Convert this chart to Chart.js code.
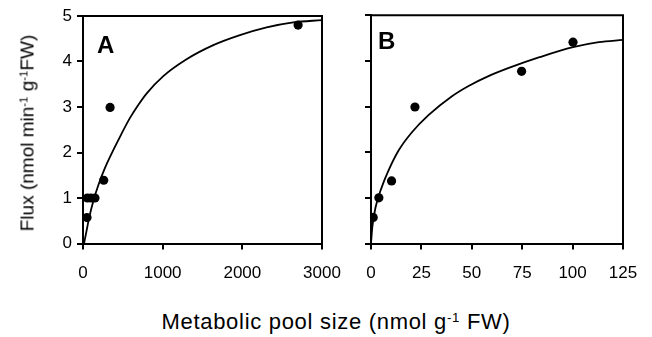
<!DOCTYPE html>
<html>
<head>
<meta charset="utf-8">
<script src="https://cdn.jsdelivr.net/npm/chart.js@4.4.1/dist/chart.umd.min.js"></script>
<style>
    body {
        margin: 0;
        background: #fff;
        width: 652px;
        height: 337px;
        position: relative;
        overflow: hidden;
        font-family: "Liberation Sans", Arial, sans-serif;
        color: #000;
    }
    #chartA { position: absolute; left: 0; top: 0; }
    #chartB { position: absolute; left: 340px; top: 0; }
    sup { font-size: 0.6em; position: relative; top: -0.55em; vertical-align: baseline; line-height: 0; }
    .ytitle {
        position: absolute;
        left: 27px;
        top: 133px;
        font-size: 19px;
        line-height: 19px;
        white-space: nowrap;
        transform: translate(-50%, -50%) rotate(-90deg);
    }
    .xtitle {
        position: absolute;
        left: 336px;
        top: 311px;
        font-size: 22px;
        line-height: 22px;
        letter-spacing: 0.7px;
        white-space: nowrap;
        transform: translateX(-50%);
    }
</style>
</head>
<body>
<canvas id="chartA" width="362" height="290"></canvas>
<canvas id="chartB" width="312" height="290"></canvas>
<div class="ytitle">Flux (nmol min<sup>-1</sup> g<sup>-1</sup>FW)</div>
<div class="xtitle">Metabolic pool size (nmol g<sup>-1</sup> FW)</div>
<script>
// Panel A - measured points
const poolA = [50, 55, 100, 150, 260, 340, 2700];
const fluxA = [0.57, 1.0, 1.0, 1.0, 1.39, 2.99, 4.80];
// Panel A - fitted curve
const curveAx = [13, 38, 79, 129, 192, 276, 380, 480, 590, 700, 800, 1008, 1300, 1636, 1970, 2305, 2640, 3000];
const curveAy = [0, 0.22, 0.58, 0.93, 1.28, 1.66, 2.05, 2.40, 2.76, 3.06, 3.30, 3.68, 4.05, 4.36, 4.58, 4.75, 4.86, 4.91];

// Panel B - measured points
const poolB = [1.1, 3.9, 10.2, 21.8, 74.7, 100.2];
const fluxB = [0.57, 1.0, 1.37, 2.99, 3.77, 4.41];
// Panel B - fitted curve
const curveBx = [0, 0.65, 2.3, 5.3, 8.6, 13.6, 20.2, 28.5, 40, 48.4, 58, 68.7, 83.6, 100.2, 113, 125];
const curveBy = [0, 0.36, 0.80, 1.23, 1.59, 2.03, 2.43, 2.81, 3.22, 3.45, 3.66, 3.85, 4.08, 4.30, 4.41, 4.46];

const fluxTicks = [0, 1, 2, 3, 4, 5];
const ticksA = [0, 1000, 2000, 3000];
const ticksB = [0, 25, 50, 75, 100, 125];

const FONT = '"Liberation Sans", Arial, sans-serif';

// box around the plot + the panel letter
const framePlugin = {
    id: 'frame',
    afterDatasetsDraw(chart, args, opts) {
        const { ctx, chartArea: a } = chart;
        ctx.save();
        ctx.strokeStyle = '#000';
        ctx.lineWidth = 2;
        ctx.beginPath();
        ctx.moveTo(a.left, a.top);
        ctx.lineTo(a.right, a.top);
        ctx.lineTo(a.right, a.bottom);
        ctx.stroke();
        ctx.font = 'bold 24px ' + FONT;
        ctx.fillStyle = '#000';
        ctx.textBaseline = 'alphabetic';
        ctx.fillText(opts.letter, a.left + opts.dx, a.top + opts.dy);
        ctx.restore();
    }
};

function toPoints(xs, ys) {
    return xs.map((x, i) => ({ x: x, y: ys[i] }));
}

function makePanel(id, px, py, cx, cy, xMax, xTicks, showYLabels, pad, yWidth, letter) {
    const ctx = document.getElementById(id).getContext('2d');
    return new Chart(ctx, {
        type: 'scatter',
        data: {
            datasets: [{
                data: toPoints(cx, cy),
                showLine: true,
                pointRadius: 0,
                borderColor: '#000',
                borderWidth: 1.8,
                cubicInterpolationMode: 'monotone',
                fill: false
            }, {
                data: toPoints(px, py),
                showLine: false,
                pointRadius: 4.6,
                pointHoverRadius: 4.6,
                backgroundColor: '#000',
                borderWidth: 0
            }]
        },
        options: {
            responsive: false,
            animation: false,
            events: [],
            layout: { padding: pad },
            plugins: {
                legend: { display: false },
                tooltip: { enabled: false },
                frame: letter
            },
            scales: {
                x: {
                    type: 'linear',
                    min: 0,
                    max: xMax,
                    afterBuildTicks: (scale) => { scale.ticks = xTicks.map(v => ({ value: v })); },
                    ticks: {
                        color: '#000',
                        font: { family: FONT, size: 17 },
                        padding: 14,
                        maxRotation: 0,
                        callback: (v) => String(v)
                    },
                    grid: { drawOnChartArea: false, drawTicks: true, tickLength: 6, color: '#000', lineWidth: 2 },
                    border: { color: '#000', width: 2 },
                    afterFit: (scale) => { scale.height = 290 - 243.5; }
                },
                y: {
                    min: 0,
                    max: 5,
                    afterBuildTicks: (scale) => { scale.ticks = fluxTicks.map(v => ({ value: v })); },
                    ticks: {
                        color: '#000',
                        font: { family: FONT, size: 17 },
                        padding: 5,
                        callback: (v) => showYLabels ? String(v) : ''
                    },
                    grid: { drawOnChartArea: false, drawTicks: true, tickLength: 6, color: '#000', lineWidth: 2 },
                    border: { color: '#000', width: 2 },
                    afterFit: (scale) => { scale.width = yWidth; }
                }
            }
        },
        plugins: [framePlugin]
    });
}

makePanel('chartA', poolA, fluxA, curveAx, curveAy, 3000, ticksA, true,
    { left: 40, top: 16, right: 40, bottom: 0 }, 43, { letter: 'A', dx: 14, dy: 37 });
makePanel('chartB', poolB, fluxB, curveBx, curveBy, 125, ticksB, false,
    { left: 0, top: 14, right: 29, bottom: 0 }, 31, { letter: 'B', dx: 7, dy: 34 });
</script>
</body>
</html>
